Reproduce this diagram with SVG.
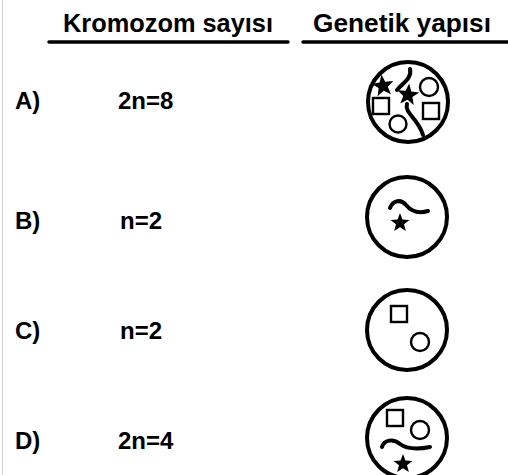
<svg xmlns="http://www.w3.org/2000/svg" xmlns:xlink="http://www.w3.org/1999/xlink" width="508" height="475" viewBox="0 0 508 475">
  <style>
    .hdr { font-family: "Liberation Sans", Arial, sans-serif; font-weight: bold; font-size: 25px; fill: #000; }
    .lbl { font-family: "Liberation Sans", Arial, sans-serif; font-weight: bold; font-size: 24px; fill: #000; }
    .rule { stroke: #000; stroke-width: 3.5; stroke-linecap: round; }
    .cell { fill: #fff; stroke: #000; stroke-width: 4; }
    .shape { fill: none; stroke: #000; stroke-width: 2.4; }
    .chrom { fill: none; stroke: #000; stroke-width: 4; stroke-linecap: round; }
    .star { fill: #000; }
  </style>
  <defs>
    <path id="star" d="M0,-10 L2.47,-3.4 L9.51,-3.09 L3.99,1.3 L5.88,8.09 L0,4.2 L-5.88,8.09 L-3.99,1.3 L-9.51,-3.09 L-2.47,-3.4 Z"/>
  </defs>

  <rect width="508" height="475" fill="#fff"/>
  <line x1="2.5" y1="0" x2="2.5" y2="475" stroke="#d4d4d4" stroke-width="1"/>

  <!-- column headers -->
  <g id="headers">
    <text class="hdr" x="63" y="32" textLength="210" lengthAdjust="spacingAndGlyphs">Kromozom sayısı</text>
    <text class="hdr" x="313" y="32" textLength="178" lengthAdjust="spacingAndGlyphs">Genetik yapısı</text>
    <line class="rule" x1="49" y1="42" x2="288" y2="42"/>
    <line class="rule" x1="303" y1="42" x2="510" y2="42"/>
  </g>

  <!-- option A -->
  <g id="option-a">
    <text class="lbl" x="15" y="109">A)</text>
    <text class="lbl" x="118" y="109">2n=8</text>
    <circle class="cell" cx="408" cy="102" r="40"/>
    <path class="chrom" d="M410,69 C412,78 404,82 397,90"/>
    <path class="chrom" d="M407,104 C404,113 418,118 423,135"/>
    <use href="#star" class="star" transform="translate(383,86) rotate(-8) scale(1.15)"/>
    <use href="#star" class="star" transform="translate(408,95) rotate(6) scale(1.15)"/>
    <circle class="shape" cx="429" cy="87" r="9"/>
    <rect class="shape" x="373" y="98" width="16" height="16"/>
    <rect class="shape" x="423" y="103" width="16" height="16"/>
    <circle class="shape" cx="398" cy="124" r="8.5"/>
  </g>

  <!-- option B -->
  <g id="option-b">
    <text class="lbl" x="15" y="229">B)</text>
    <text class="lbl" x="120" y="229">n=2</text>
    <circle class="cell" cx="407" cy="217" r="40"/>
    <path class="chrom" d="M390,208 C393,200 401,199 406,205 C411,211 418,214 428,211"/>
    <use href="#star" class="star" transform="translate(400,223) scale(1.0)"/>
  </g>

  <!-- option C -->
  <g id="option-c">
    <text class="lbl" x="15" y="339">C)</text>
    <text class="lbl" x="120" y="339">n=2</text>
    <circle class="cell" cx="407" cy="330" r="40"/>
    <rect class="shape" x="391" y="306" width="16" height="16"/>
    <circle class="shape" cx="420" cy="342" r="9"/>
  </g>

  <!-- option D -->
  <g id="option-d">
    <text class="lbl" x="15" y="449">D)</text>
    <text class="lbl" x="118" y="449">2n=4</text>
    <circle class="cell" cx="407" cy="438" r="40"/>
    <rect class="shape" x="387" y="410" width="16" height="16"/>
    <circle class="shape" cx="420" cy="430" r="9"/>
    <path class="chrom" d="M382,447 C384,440 393,438 400,444 C408,450 420,449 430,447"/>
    <use href="#star" class="star" transform="translate(403,464) scale(1.0)"/>
  </g>
</svg>
